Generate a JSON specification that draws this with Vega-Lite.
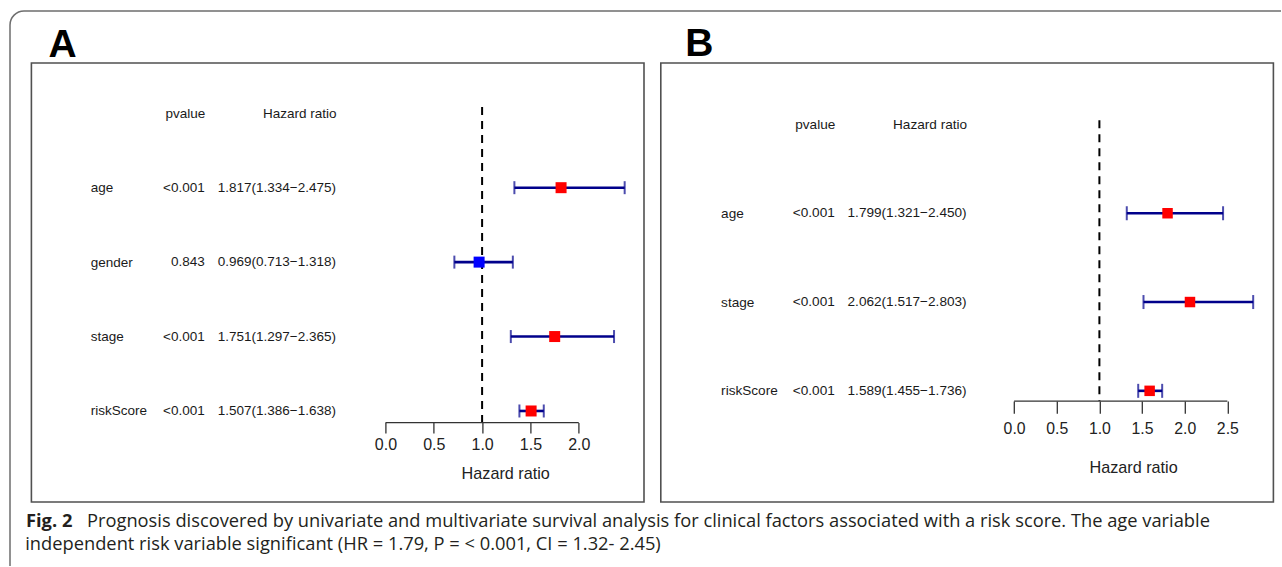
{
  "$schema": "https://vega.github.io/schema/vega-lite/v6.json",
  "background": "white",
  "padding": {"left": 9, "top": 10, "right": -30, "bottom": -26},
  "align": "none",
  "spacing": -568,
  "config": {
    "view": {"stroke": null},
    "axis": {"grid": false},
    "title": {"font": "Liberation Sans"}
  },
  "vconcat": [
    {
      "width": 1300,
      "height": 580,
      "data": {"values": []},
      "mark": "point",
      "view": {"stroke": "#6e6e6e", "strokeWidth": 1.5, "cornerRadius": 14, "fill": null},
      "title": {
        "text": "independent risk variable significant (HR = 1.79, P = < 0.001, CI = 1.32- 2.45)",
        "orient": "bottom",
        "anchor": "start",
        "frame": "group",
        "font": "Open Sans",
        "fontSize": 18.3,
        "fontWeight": "normal",
        "color": "#231f20",
        "baseline": "alphabetic",
        "offset": -41.45,
        "dx": 15.25
      }
    },
    {
      "bounds": "flush",
      "spacing": 16.4,
      "title": {
        "text": "Prognosis discovered by univariate and multivariate survival analysis for clinical factors associated with a risk score. The age variable",
        "orient": "bottom",
        "anchor": "start",
        "font": "Open Sans",
        "fontSize": 18.3,
        "fontWeight": "normal",
        "color": "#231f20",
        "baseline": "alphabetic",
        "offset": -3,
        "dx": 77
      },
      "hconcat": [
        {
          "width": 5,
          "height": 10,
          "data": {"values": []},
          "mark": "point",
          "view": {"stroke": null, "fill": "white", "fillOpacity": 0},
          "title": {
            "text": "Fig. 2",
            "orient": "bottom",
            "anchor": "start",
            "frame": "group",
            "font": "Open Sans",
            "fontSize": 18.3,
            "fontWeight": "bold",
            "color": "#231f20",
            "baseline": "alphabetic",
            "offset": 454,
            "dx": 16
          }
        },
        {
          "width": 612.6,
          "height": 439,
          "title": {
            "text": "A",
            "anchor": "start",
            "frame": "group",
            "font": "Liberation Sans",
            "fontSize": 39,
            "fontWeight": "bold",
            "color": "#000000",
            "baseline": "alphabetic",
            "offset": -33,
            "dx": 17
          },
          "view": {"stroke": "#505050", "strokeWidth": 1.6},
          "data": {
            "values": [
              {"id": "age", "pvalue": "<0.001", "Hazard ratio": "1.817(1.334\u22122.475)", "hr": 1.817, "lo": 1.334, "hi": 2.475},
              {"id": "gender", "pvalue": "0.843", "Hazard ratio": "0.969(0.713\u22121.318)", "hr": 0.969, "lo": 0.713, "hi": 1.318},
              {"id": "stage", "pvalue": "<0.001", "Hazard ratio": "1.751(1.297\u22122.365)", "hr": 1.751, "lo": 1.297, "hi": 2.365},
              {"id": "riskScore", "pvalue": "<0.001", "Hazard ratio": "1.507(1.386\u22121.638)", "hr": 1.507, "lo": 1.386, "hi": 1.638}
            ]
          },
          "encoding": {
            "y": {
              "field": "id",
              "type": "nominal",
              "scale": {"type": "point", "domain": ["header", "age", "gender", "stage", "riskScore"], "padding": 0.949, "align": 0.3557},
              "axis": {
                "orient": "left", "offset": -58.8, "domain": false, "ticks": false, "tickSize": 0,
                "labelPadding": 0, "labelAlign": "left", "labelBaseline": "middle",
                "labelExpr": "datum.value == 'header' ? '' : datum.label",
                "labelFont": "Liberation Sans", "labelFontSize": 13.5, "labelColor": "#1a1a1a", "title": null
              }
            }
          },
          "layer": [
            {
              "transform": [{"fold": ["pvalue", "Hazard ratio"], "as": ["column", "entry"]}],
              "mark": {"type": "text", "align": "right", "baseline": "middle", "font": "Liberation Sans", "fontSize": 13.5, "color": "#1a1a1a"},
              "encoding": {
                "x": {
                  "field": "column",
                  "type": "nominal",
                  "scale": {"type": "point", "domain": ["pvalue", "Hazard ratio"], "range": [173.3, 304.6], "padding": 0},
                  "axis": {
                    "orient": "top", "offset": -50.3, "domain": false, "ticks": false, "tickSize": 0,
                    "labelPadding": 0, "labelAlign": "right", "labelBaseline": "middle", "labelAngle": 0,
                    "labelFont": "Liberation Sans", "labelFontSize": 13.5, "labelColor": "#1a1a1a", "title": null
                  }
                },
                "text": {"field": "entry", "type": "nominal"}
              }
            },
            {
              "layer": [
                {
                  "data": {"values": [{"ref": 1}]},
                  "mark": {"type": "rule", "color": "#000000", "strokeWidth": 2, "strokeDash": [8, 6], "yOffset": -6.3, "y2Offset": 11.6},
                  "encoding": {
                    "x": {"field": "ref", "type": "quantitative"},
                    "y": {"datum": "header", "type": "nominal"},
                    "y2": {"datum": "riskScore"}
                  }
                },
                {
                  "data": {"values": [{"from": 0, "to": 2}]},
                  "mark": {"type": "rule", "color": "#333333", "strokeWidth": 1.3, "yOffset": 11.6},
                  "encoding": {
                    "x": {
                      "field": "from",
                      "type": "quantitative",
                      "scale": {"domain": [-3.663, 2.675], "zero": false, "nice": false},
                      "axis": {
                        "orient": "bottom", "offset": -79.4, "values": [0, 0.5, 1, 1.5, 2], "format": ".1f",
                        "domain": false, "tickSize": 10.4, "tickColor": "#333333", "tickWidth": 1.3,
                        "labelFont": "Liberation Sans", "labelFontSize": 16, "labelColor": "#222222",
                        "labelPadding": 16.6, "labelBaseline": "alphabetic",
                        "title": "Hazard ratio", "titleFont": "Liberation Sans", "titleFontSize": 16.2,
                        "titleFontWeight": "normal", "titleColor": "#222222",
                        "titleX": 473.8, "titleY": 55.7, "titleBaseline": "alphabetic", "titleAlign": "center"
                      }
                    },
                    "x2": {"field": "to"},
                    "y": {"datum": "riskScore", "type": "nominal"}
                  }
                },
                {
                  "mark": {"type": "rule", "color": "#00008b", "strokeWidth": 2.6},
                  "encoding": {
                    "x": {"field": "lo", "type": "quantitative"},
                    "x2": {"field": "hi"}
                  }
                },
                {
                  "mark": {"type": "tick", "orient": "vertical", "color": "#00008b", "thickness": 2, "size": 13},
                  "encoding": {"x": {"field": "lo", "type": "quantitative"}}
                },
                {
                  "mark": {"type": "tick", "orient": "vertical", "color": "#00008b", "thickness": 2, "size": 13},
                  "encoding": {"x": {"field": "hi", "type": "quantitative"}}
                },
                {
                  "mark": {"type": "square", "size": 121, "opacity": 1},
                  "encoding": {
                    "x": {"field": "hr", "type": "quantitative"},
                    "color": {"condition": {"test": "datum.pvalue != '<0.001'", "value": "#0000ff"}, "value": "#ff0000"}
                  }
                }
              ]
            }
          ],
          "resolve": {"scale": {"x": "independent"}, "axis": {"x": "independent"}}
        },
        {
          "width": 612.6,
          "height": 439,
          "title": {
            "text": "B",
            "anchor": "start",
            "frame": "group",
            "font": "Liberation Sans",
            "fontSize": 39,
            "fontWeight": "bold",
            "color": "#000000",
            "baseline": "alphabetic",
            "offset": -32,
            "dx": 24.5
          },
          "view": {"stroke": "#505050", "strokeWidth": 1.6},
          "data": {
            "values": [
              {"id": "age", "pvalue": "<0.001", "Hazard ratio": "1.799(1.321\u22122.450)", "hr": 1.799, "lo": 1.321, "hi": 2.45},
              {"id": "stage", "pvalue": "<0.001", "Hazard ratio": "2.062(1.517\u22122.803)", "hr": 2.062, "lo": 1.517, "hi": 2.803},
              {"id": "riskScore", "pvalue": "<0.001", "Hazard ratio": "1.589(1.455\u22121.736)", "hr": 1.589, "lo": 1.455, "hi": 1.736}
            ]
          },
          "encoding": {
            "y": {
              "field": "id",
              "type": "nominal",
              "scale": {"type": "point", "domain": ["header", "age", "stage", "riskScore"], "padding": 0.972, "align": 0.356},
              "axis": {
                "orient": "left", "offset": -59.8, "domain": false, "ticks": false, "tickSize": 0,
                "labelPadding": 0, "labelAlign": "left", "labelBaseline": "middle",
                "labelExpr": "datum.value == 'header' ? '' : datum.label",
                "labelFont": "Liberation Sans", "labelFontSize": 13.6, "labelColor": "#1a1a1a", "title": null
              }
            }
          },
          "layer": [
            {
              "transform": [{"fold": ["pvalue", "Hazard ratio"], "as": ["column", "entry"]}],
              "mark": {"type": "text", "align": "right", "baseline": "middle", "font": "Liberation Sans", "fontSize": 13.6, "color": "#1a1a1a"},
              "encoding": {
                "x": {
                  "field": "column",
                  "type": "nominal",
                  "scale": {"type": "point", "domain": ["pvalue", "Hazard ratio"], "range": [174, 305.8], "padding": 0},
                  "axis": {
                    "orient": "top", "offset": -61.5, "domain": false, "ticks": false, "tickSize": 0,
                    "labelPadding": 0, "labelAlign": "right", "labelBaseline": "middle", "labelAngle": 0,
                    "labelFont": "Liberation Sans", "labelFontSize": 13.6, "labelColor": "#1a1a1a", "title": null
                  }
                },
                "text": {"field": "entry", "type": "nominal"}
              }
            },
            {
              "layer": [
                {
                  "data": {"values": [{"ref": 1}]},
                  "mark": {"type": "rule", "color": "#000000", "strokeWidth": 2, "strokeDash": [8, 6], "yOffset": -4.2, "y2Offset": 10.2},
                  "encoding": {
                    "x": {"field": "ref", "type": "quantitative"},
                    "y": {"datum": "header", "type": "nominal"},
                    "y2": {"datum": "riskScore"}
                  }
                },
                {
                  "data": {"values": [{"from": 0, "to": 2.5}]},
                  "mark": {"type": "rule", "color": "#333333", "strokeWidth": 1.3, "yOffset": 10.2},
                  "encoding": {
                    "x": {
                      "field": "from",
                      "type": "quantitative",
                      "scale": {"domain": [-4.142, 3.04], "zero": false, "nice": false},
                      "axis": {
                        "orient": "bottom", "offset": -101, "values": [0, 0.5, 1, 1.5, 2, 2.5], "format": ".1f",
                        "domain": false, "tickSize": 12.3, "tickColor": "#333333", "tickWidth": 1.3,
                        "labelFont": "Liberation Sans", "labelFontSize": 15.8, "labelColor": "#222222",
                        "labelPadding": 20, "labelBaseline": "alphabetic",
                        "title": "Hazard ratio", "titleFont": "Liberation Sans", "titleFontSize": 16.2,
                        "titleFontWeight": "normal", "titleColor": "#222222",
                        "titleX": 472.3, "titleY": 71, "titleBaseline": "alphabetic", "titleAlign": "center"
                      }
                    },
                    "x2": {"field": "to"},
                    "y": {"datum": "riskScore", "type": "nominal"}
                  }
                },
                {
                  "mark": {"type": "rule", "color": "#00008b", "strokeWidth": 2.6},
                  "encoding": {
                    "x": {"field": "lo", "type": "quantitative"},
                    "x2": {"field": "hi"}
                  }
                },
                {
                  "mark": {"type": "tick", "orient": "vertical", "color": "#00008b", "thickness": 2, "size": 14},
                  "encoding": {"x": {"field": "lo", "type": "quantitative"}}
                },
                {
                  "mark": {"type": "tick", "orient": "vertical", "color": "#00008b", "thickness": 2, "size": 14},
                  "encoding": {"x": {"field": "hi", "type": "quantitative"}}
                },
                {
                  "mark": {"type": "square", "size": 110, "opacity": 1},
                  "encoding": {
                    "x": {"field": "hr", "type": "quantitative"},
                    "color": {"condition": {"test": "datum.pvalue != '<0.001'", "value": "#0000ff"}, "value": "#ff0000"}
                  }
                }
              ]
            }
          ],
          "resolve": {"scale": {"x": "independent"}, "axis": {"x": "independent"}}
        }
      ]
    }
  ]
}
